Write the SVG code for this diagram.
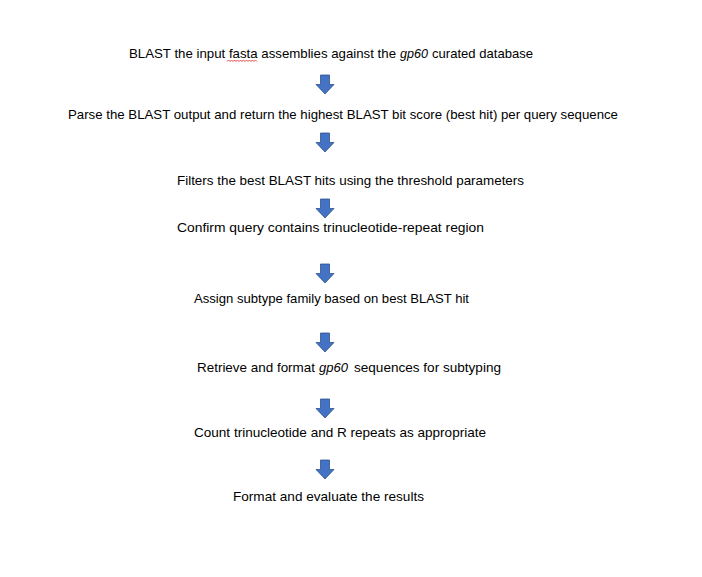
<svg xmlns="http://www.w3.org/2000/svg" width="702" height="577" viewBox="0 0 702 577">
<style>
.t{font-family:"Liberation Sans",Arial,sans-serif;font-size:13.5px;fill:#000}
.i{font-style:italic}
.a{fill:#4472C4;stroke:#2F528F;stroke-width:0.8}
</style>
<defs>
<path id="arr" d="M-4.5,0 H4.5 V9.5 H9 L0,19 L-9,9.5 H-4.5 Z"/>
</defs>
<rect width="702" height="577" fill="#fff"/>
<g id="step1">
<text class="t" x="129" y="58" textLength="267" lengthAdjust="spacingAndGlyphs">BLAST the input fasta assemblies against the</text>
<text class="t i" x="400" y="58" textLength="28" lengthAdjust="spacingAndGlyphs">gp60</text>
<text class="t" x="432" y="58" textLength="101" lengthAdjust="spacingAndGlyphs">curated database</text>
<path d="M227,61.5 l1.5,-1.5 1.5,1.5 1.5,-1.5 1.5,1.5 1.5,-1.5 1.5,1.5 1.5,-1.5 1.5,1.5 1.5,-1.5 1.5,1.5 1.5,-1.5 1.5,1.5 1.5,-1.5 1.5,1.5 1.5,-1.5 1.5,1.5 1.5,-1.5 1.5,1.5 1.5,-1.5 1.5,1.5" fill="none" stroke="#e02020" stroke-width="0.8"/>
</g>
<g id="step2"><text class="t" x="68" y="119" textLength="550" lengthAdjust="spacingAndGlyphs">Parse the BLAST output and return the highest BLAST bit score (best hit) per query sequence</text></g>
<g id="step3"><text class="t" x="177" y="185" textLength="347" lengthAdjust="spacingAndGlyphs">Filters the best BLAST hits using the threshold parameters</text></g>
<g id="step4"><text class="t" x="177" y="232" textLength="307" lengthAdjust="spacingAndGlyphs">Confirm query contains trinucleotide-repeat region</text></g>
<g id="step5"><text class="t" x="194" y="303" textLength="275" lengthAdjust="spacingAndGlyphs">Assign subtype family based on best BLAST hit</text></g>
<g id="step6">
<text class="t" x="197" y="372" textLength="118" lengthAdjust="spacingAndGlyphs">Retrieve and format</text>
<text class="t i" x="319" y="372" textLength="29" lengthAdjust="spacingAndGlyphs">gp60</text>
<text class="t" x="354" y="372" textLength="147" lengthAdjust="spacingAndGlyphs">sequences for subtyping</text>
</g>
<g id="step7"><text class="t" x="194" y="437" textLength="292" lengthAdjust="spacingAndGlyphs">Count trinucleotide and R repeats as appropriate</text></g>
<g id="step8"><text class="t" x="233" y="501" textLength="191" lengthAdjust="spacingAndGlyphs">Format and evaluate the results</text></g>
<g id="connectors">
<use href="#arr" class="a" transform="translate(325,75)"/>
<use href="#arr" class="a" transform="translate(325,133)"/>
<use href="#arr" class="a" transform="translate(325,199)"/>
<use href="#arr" class="a" transform="translate(325,264)"/>
<use href="#arr" class="a" transform="translate(325,333)"/>
<use href="#arr" class="a" transform="translate(325,399)"/>
<use href="#arr" class="a" transform="translate(325,460)"/>
</g>
</svg>
